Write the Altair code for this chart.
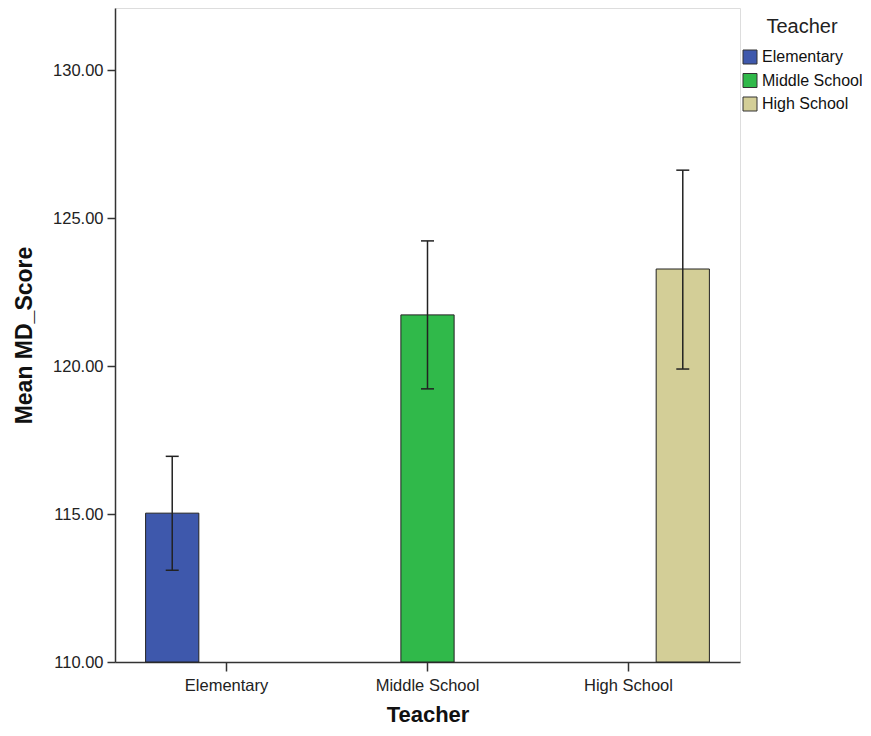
import altair as alt
import pandas as pd

teachers = ["Elementary", "Middle School", "High School"]
means = [115.03, 121.73, 123.28]
ci_low = [113.10, 119.23, 119.90]
ci_high = [116.95, 124.23, 126.62]
colors = ["#3e58ac", "#30b94a", "#d3ce97"]
y_ticks = [110, 115, 120, 125, 130]

df = pd.DataFrame({"Teacher": teachers, "mean": means, "lo": ci_low, "hi": ci_high})

x_enc = alt.X("Teacher:N", sort=teachers,
              scale=alt.Scale(paddingInner=0, paddingOuter=0.055),
              axis=alt.Axis(title="Teacher", labelAngle=0, tickSize=9, labelPadding=6,
                            labelFontSize=16.5, labelColor="#222", titleFontSize=22,
                            titleFontWeight="bold", titleColor="#111",
                            titleY=52, titleBaseline="middle",
                            domainColor="#333", domainWidth=1.5, tickColor="#333", tickWidth=1.5))
xoff = alt.XOffset("Teacher:N", sort=teachers,
                   scale=alt.Scale(paddingInner=0.02, paddingOuter=0.36))
yscale = alt.Scale(domain=[110, 132.1], nice=False, zero=False)

color_enc = alt.Color("Teacher:N", sort=teachers,
                      scale=alt.Scale(domain=teachers, range=colors),
                      legend=alt.Legend(title="Teacher", orient="none", legendX=627, legendY=9,
                                        titleFontSize=20, titleFontWeight="normal", titleColor="#222",
                                        titleAnchor="middle", titlePadding=12,
                                        labelFontSize=16, labelColor="#111", labelOffset=4,
                                        symbolType="square", symbolSize=196, symbolStrokeColor="#333",
                                        symbolStrokeWidth=1, symbolOpacity=1, rowPadding=5.5))

bars = alt.Chart(df).mark_bar(stroke="#222", strokeWidth=1, opacity=1).encode(
    x=x_enc,
    xOffset=xoff,
    y=alt.Y("mean:Q", scale=yscale,
            axis=alt.Axis(title="Mean MD_Score", values=y_ticks, format=".2f", tickSize=8,
                          labelPadding=4, labelFontSize=16.5, labelColor="#222", grid=False,
                          titleFontSize=23, titleFontWeight="bold", titleColor="#111",
                          titleX=-91, titleBaseline="middle",
                          domainColor="#333", domainWidth=1.5, tickColor="#333", tickWidth=1.5)),
    y2=alt.datum(110),
    color=color_enc,
)

rules = alt.Chart(df).mark_rule(color="#222", strokeWidth=1.5).encode(
    x=alt.X("Teacher:N", sort=teachers),
    xOffset=alt.XOffset("Teacher:N", sort=teachers),
    y=alt.Y("lo:Q", scale=yscale),
    y2="hi:Q",
)

caps_lo = alt.Chart(df).mark_tick(color="#222", size=13, thickness=1.5, opacity=1).encode(
    x=alt.X("Teacher:N", sort=teachers),
    xOffset=alt.XOffset("Teacher:N", sort=teachers),
    y=alt.Y("lo:Q", scale=yscale),
)
caps_hi = alt.Chart(df).mark_tick(color="#222", size=13, thickness=1.5, opacity=1).encode(
    x=alt.X("Teacher:N", sort=teachers),
    xOffset=alt.XOffset("Teacher:N", sort=teachers),
    y=alt.Y("hi:Q", scale=yscale),
)

chart = alt.layer(bars, rules, caps_lo, caps_hi).properties(
    width=625, height=654,
    autosize=alt.AutoSizeParams(type="none"),
    padding={"left": 107, "top": 0, "right": 122, "bottom": 66},
    background="white",
).configure_view(
    fill="#f0f0f0", stroke="#555", strokeWidth=1.5
).configure(
    font="Liberation Sans"
)

chart.save("out.html", embed_options={"renderer": "svg", "actions": False})
